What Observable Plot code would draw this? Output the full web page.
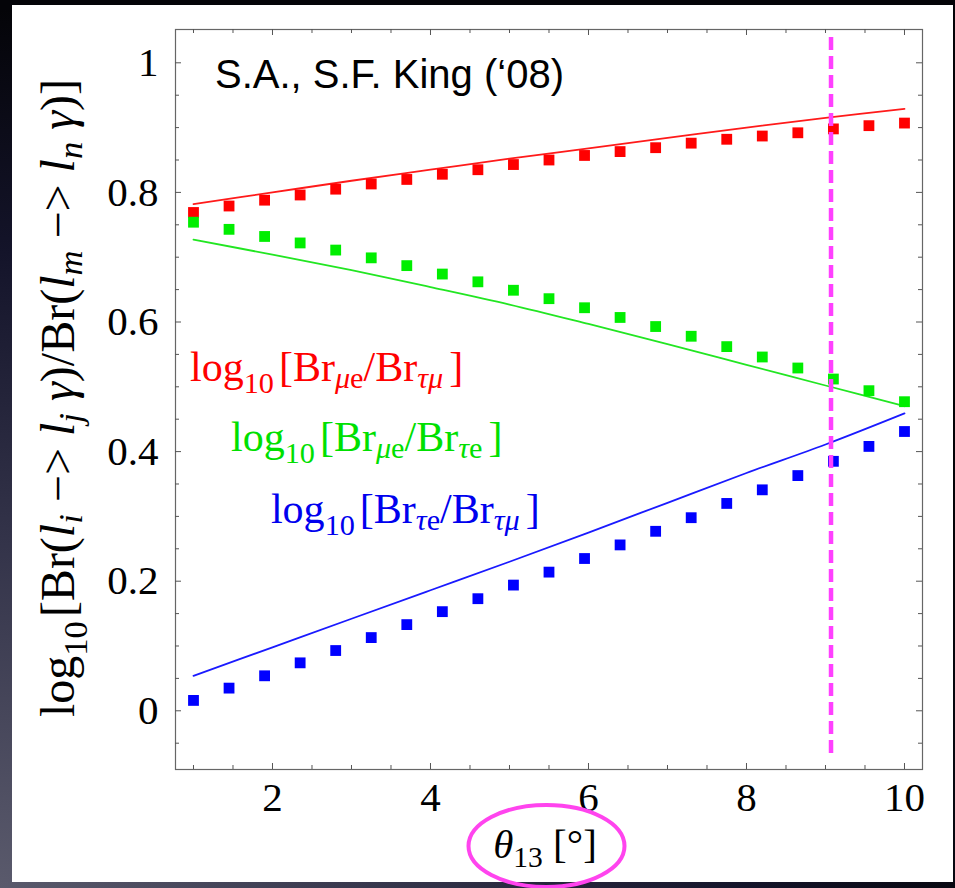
<!DOCTYPE html>
<html><head><meta charset="utf-8">
<script src="https://cdn.jsdelivr.net/npm/d3@7"></script>
<script src="https://cdn.jsdelivr.net/npm/@observablehq/plot@0.6"></script>
<style>
html,body{margin:0;padding:0;width:955px;height:888px;overflow:hidden;}
body{background: radial-gradient(ellipse 120% 110% at 0% 100%, #5a5a6c 0%, #34344a 35%, #14142a 65%, #040408 90%);}
#chart{position:absolute;left:0;top:0;}
</style></head><body><div id="chart"></div><script>
// ---- data ----
const theta = [1, 1.45, 1.9, 2.35, 2.8, 3.25, 3.7, 4.15, 4.6, 5.05, 5.5, 5.95, 6.4, 6.85, 7.3, 7.75, 8.2, 8.65, 9.1, 9.55, 10];
const redPoints   = [0.769, 0.779, 0.788, 0.796, 0.805, 0.813, 0.820, 0.828, 0.835, 0.843, 0.850, 0.857, 0.863, 0.869, 0.876, 0.882, 0.887, 0.892, 0.898, 0.903, 0.907];
const greenPoints = [0.754, 0.743, 0.732, 0.722, 0.711, 0.699, 0.687, 0.674, 0.662, 0.649, 0.636, 0.622, 0.607, 0.593, 0.578, 0.562, 0.546, 0.529, 0.512, 0.494, 0.477];
const bluePoints  = [0.016, 0.035, 0.054, 0.074, 0.093, 0.113, 0.133, 0.153, 0.173, 0.194, 0.214, 0.235, 0.256, 0.277, 0.298, 0.320, 0.341, 0.363, 0.385, 0.408, 0.431];
const lineTheta = [1, 2, 3, 4, 5, 6, 7, 8, 9, 10];
const redLine   = [0.782, 0.800, 0.818, 0.835, 0.852, 0.868, 0.884, 0.900, 0.915, 0.929];
const greenLine = [0.727, 0.704, 0.680, 0.654, 0.627, 0.597, 0.566, 0.534, 0.502, 0.470];
const blueLine  = [0.054, 0.098, 0.142, 0.186, 0.230, 0.275, 0.321, 0.367, 0.411, 0.459];
const xMajorTicks = [2, 4, 6, 8, 10];
const xMinorTicks = [1, 1.5, 2.5, 3, 3.5, 4.5, 5, 5.5, 6.5, 7, 7.5, 8.5, 9, 9.5];
const yMajorTicks = [0, 0.2, 0.4, 0.6, 0.8, 1];
const yMinorTicks = [-0.05, 0.05, 0.1, 0.15, 0.25, 0.3, 0.35, 0.45, 0.5, 0.55, 0.65, 0.7, 0.75, 0.85, 0.9, 0.95];
const markerTheta = 9.07;
const titleText = "S.A., S.F. King (\u201808)";

// ---- layout ----
const W = 955, H = 888;
const mL = 175, mT = 29, mR = 33, mB = 119;
const plotW = W - mL - mR, plotH = H - mT - mB;
const serif = "'Liberation Serif', 'Times New Roman', serif";

const series = [
  {pts: redPoints, line: redLine, fill: "#ff0000", stroke: "#ff1a1a"},
  {pts: greenPoints, line: greenLine, fill: "#00ee00", stroke: "#22e622"},
  {pts: bluePoints, line: blueLine, fill: "#0000ff", stroke: "#1a1aff"}
];

function rich(g, x, y, parts, size, opts = {}) {
  const t = g.append("text")
    .attr("x", x).attr("y", y)
    .attr("font-family", serif)
    .attr("font-size", size)
    .attr("text-anchor", opts.anchor || "start")
    .attr("fill", opts.fill || "black");
  if (opts.transform) t.attr("transform", opts.transform);
  let shift = 0;
  for (const p of parts) {
    const s = t.append("tspan").text(p.t);
    const target = p.sub ? (p.shift ?? 0.22 * size) : 0;
    if (target !== shift) { s.attr("dy", target - shift); shift = target; }
    if (p.sub) s.attr("font-size", size * 0.72);
    if (p.it) s.attr("font-style", "italic");
    if (p.dx) s.attr("dx", p.dx);
  }
  return t;
}

const panel = () => {
  const g = d3.create("svg:g");
  g.append("rect").attr("x", 12).attr("y", 5).attr("width", 941).attr("height", 877).attr("fill", "white");
  return g.node();
};

const annotations = (index, scales) => {
  const {x, y} = scales;
  const g = d3.create("svg:g");
  // title
  g.append("text").attr("x", x(1.278)).attr("y", y(0.960))
    .attr("text-anchor", "start")
    .attr("font-family", "'Liberation Sans', Arial, sans-serif").attr("font-size", 40)
    .attr("fill", "black").text(titleText);
  // legends
  const S = 42;
  rich(g, x(0.962), y(0.508), [
    {t: "log"}, {t: "10", sub: true, shift: 12}, {t: "[Br", dx: 5}, {t: "\u03bc", sub: true, it: true, shift: 7}, {t: "e", sub: true, shift: 7},
    {t: "/Br"}, {t: "\u03c4\u03bc", sub: true, it: true, shift: 7}, {t: "]", dx: 6}
  ], S, {fill: "#ff0000"});
  rich(g, x(1.481), y(0.3997), [
    {t: "log"}, {t: "10", sub: true, shift: 12}, {t: "[Br", dx: 5}, {t: "\u03bc", sub: true, it: true, shift: 7}, {t: "e", sub: true, shift: 7},
    {t: "/Br"}, {t: "\u03c4", sub: true, it: true, shift: 7}, {t: "e", sub: true, shift: 7}, {t: "]", dx: 6}
  ], S, {fill: "#00e000"});
  rich(g, x(1.987), y(0.289), [
    {t: "log"}, {t: "10", sub: true, shift: 12}, {t: "[Br", dx: 5}, {t: "\u03c4", sub: true, it: true, shift: 7}, {t: "e", sub: true, shift: 7},
    {t: "/Br"}, {t: "\u03c4\u03bc", sub: true, it: true, shift: 7}, {t: "]", dx: 6}
  ], S, {fill: "#0000ee"});
  // y label (rotated)
  rich(g, 0, 0, [
    {t: "log"}, {t: "10", sub: true, shift: 13}, {t: "[Br(", dx: 4}, {t: "l", it: true}, {t: "i", sub: true, it: true, shift: 8},
    {t: " \u2212> "}, {t: "l", it: true}, {t: "j", sub: true, it: true, shift: 8}, {t: " \u03b3", it: true}, {t: ")/Br("},
    {t: "l", it: true}, {t: "m", sub: true, it: true, shift: 8}, {t: " \u2212> "}, {t: "l", it: true}, {t: "n", sub: true, it: true, shift: 8},
    {t: " \u03b3", it: true}, {t: ")]"}
  ], 48, {transform: "translate(74,717) rotate(-90)"});
  // x label
  rich(g, 545, 858, [
    {t: "\u03b8", it: true}, {t: "13", sub: true, shift: 9}, {t: " [\u00b0]"}
  ], 41, {anchor: "middle"});
  // highlight ellipse
  g.append("ellipse").attr("cx", 546.5).attr("cy", 846).attr("rx", 78).attr("ry", 41)
    .attr("fill", "none").attr("stroke", "#ff44ee").attr("stroke-width", 4);
  return g.node();
};

const marks = [
  panel,
  Plot.frame({stroke: "#666", strokeWidth: 1.2}),
  // inward ticks on all four sides
  Plot.ruleX(xMajorTicks, {x: d => d, insetTop: plotH - 6, stroke: "#555"}),
  Plot.ruleX(xMajorTicks, {x: d => d, insetBottom: plotH - 6, stroke: "#555"}),
  Plot.ruleX(xMinorTicks, {x: d => d, insetTop: plotH - 4, stroke: "#555"}),
  Plot.ruleX(xMinorTicks, {x: d => d, insetBottom: plotH - 4, stroke: "#555"}),
  Plot.ruleY(yMajorTicks, {y: d => d, insetRight: plotW - 6, stroke: "#555"}),
  Plot.ruleY(yMajorTicks, {y: d => d, insetLeft: plotW - 6, stroke: "#555"}),
  Plot.ruleY(yMinorTicks, {y: d => d, insetRight: plotW - 4, stroke: "#555"}),
  Plot.ruleY(yMinorTicks, {y: d => d, insetLeft: plotW - 4, stroke: "#555"}),
  Plot.axisX(xMajorTicks, {tickSize: 0, tickPadding: 12, fontSize: 41, fontFamily: serif, label: null}),
  Plot.axisY(yMajorTicks, {tickSize: 0, tickPadding: 17, fontSize: 41, fontFamily: serif, label: null, tickFormat: d => String(d)})
];
for (const s of series) {
  marks.push(Plot.line(lineTheta.map((t, i) => ({t, v: s.line[i]})), {x: "t", y: "v", stroke: s.stroke, strokeWidth: 1.8, curve: "catmull-rom"}));
}
for (const s of series) {
  marks.push(Plot.dot(theta.map((t, i) => ({t, v: s.pts[i]})), {x: "t", y: "v", fill: s.fill, symbol: "square", r: 6.1, stroke: "none"}));
}
marks.push(Plot.ruleX([markerTheta], {x: d => d, y1: -0.066, y2: 1.04, stroke: "#ff40ff", strokeWidth: 4.5, strokeDasharray: "13,6"}));
marks.push(annotations);

const chart = Plot.plot({
  width: W, height: H,
  marginLeft: mL, marginTop: mT, marginRight: mR, marginBottom: mB,
  x: {domain: [0.7722, 10.228]},
  y: {domain: [-0.0906, 1.0514]},
  style: {background: "transparent", color: "black", overflow: "visible"},
  marks
});
document.getElementById("chart").appendChild(chart);
</script></body></html>
